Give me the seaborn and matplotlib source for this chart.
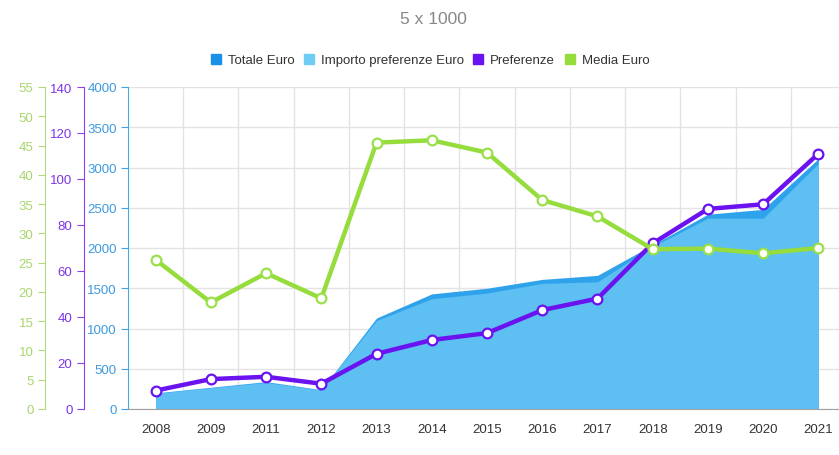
import numpy as np
import pandas as pd
import matplotlib
matplotlib.use("Agg")
import matplotlib.pyplot as plt
from matplotlib.lines import Line2D
import seaborn as sns

# data
anni = ["2008", "2009", "2011", "2012", "2013", "2014", "2015",
        "2016", "2017", "2018", "2019", "2020", "2021"]
totale_euro = [200, 270, 340, 240, 1130, 1430, 1500, 1610, 1660, 2040, 2420, 2480, 3110]
importo_pref_euro = [195, 265, 330, 235, 1100, 1370, 1440, 1560, 1580, 2020, 2370, 2370, 3050]
preferenze = [8, 13, 14, 11, 24, 30, 33, 43, 48, 72, 87, 89, 111]
media_euro = [25.5, 18.2, 23.2, 18.9, 45.5, 45.9, 43.8, 35.7, 32.9, 27.3, 27.4, 26.6, 27.5]

df = pd.DataFrame({
    "pos": np.arange(len(anni)),
    "anno": anni,
    "totale": totale_euro,
    "importo": importo_pref_euro,
    "pref": preferenze,
    "media": media_euro,
})

c_tot = "#1a90e8"
c_imp = "#6fcdf5"
c_pref = "#6a12f0"
c_media = "#95dc3c"

sns.set_style("white")
plt.rcParams["font.family"] = ["Liberation Sans", "DejaVu Sans"]

fig = plt.figure(figsize=(8.39, 4.56), dpi=100)
ax = fig.add_axes([128 / 839, 46 / 456, 718 / 839, 322 / 456])

# areas
ax.fill_between(df["pos"], 0, df["totale"], color="#2fa2ec", lw=0, zorder=1)
ax.fill_between(df["pos"], 0, df["importo"], color="#5dbff2", lw=0, zorder=2)
ax.set_ylim(0, 4000)
ax.set_yticks(np.arange(0, 4001, 500))
ax.set_xlim(-0.5, len(anni) - 0.5)
ax.set_xticks(df["pos"])
ax.set_xticklabels(anni)
ax.set_xticks(np.arange(0.5, len(anni) - 0.5, 1), minor=True)
ax.tick_params(axis="x", which="major", length=0, labelsize=9.5, labelcolor="#333333", pad=10)
ax.tick_params(axis="x", which="minor", length=5, color="#999999", width=1)
ax.tick_params(axis="y", length=5, color="#3fa3e6", labelcolor="#3b9ae0", labelsize=9.5, pad=3)
ax.yaxis.grid(True, color="#e3e3e3", lw=1)
ax.xaxis.grid(True, which="minor", color="#e3e3e3", lw=1)
ax.set_axisbelow(True)
for s in ["top", "right"]:
    ax.spines[s].set_visible(False)
ax.spines["left"].set_color("#4aa8e0")
ax.spines["bottom"].set_color("#a0a0a0")
ax.set_xlabel("")
ax.set_ylabel("")

# preferenze axis
ax_p = ax.twinx()
sns.lineplot(data=df, x="pos", y="pref", ax=ax_p, color=c_pref, lw=3.2,
             marker="o", markersize=7, markerfacecolor="white",
             markeredgecolor=c_pref, markeredgewidth=1.6, zorder=5)
ax_p.set_ylim(0, 140)
ax_p.set_yticks(np.arange(0, 141, 20))
ax_p.yaxis.set_ticks_position("left")
ax_p.yaxis.set_label_position("left")
ax_p.spines["left"].set_position(("outward", 32))
ax_p.spines["left"].set_visible(True)
ax_p.spines["left"].set_color("#8a3ff0")
for s in ["top", "right", "bottom"]:
    ax_p.spines[s].set_visible(False)
ax_p.tick_params(axis="y", length=5, color="#8a3ff0", labelcolor="#7b35e6", labelsize=9.5, pad=3)
ax_p.set_ylabel("")
ax_p.set_xlabel("")

# media euro axis
ax_m = ax.twinx()
sns.lineplot(data=df, x="pos", y="media", ax=ax_m, color=c_media, lw=3.2,
             marker="o", markersize=7, markerfacecolor="white",
             markeredgecolor="#9be04a", markeredgewidth=1.6, zorder=6)
ax_m.set_ylim(0, 55)
ax_m.set_yticks(np.arange(0, 56, 5))
ax_m.yaxis.set_ticks_position("left")
ax_m.yaxis.set_label_position("left")
ax_m.spines["left"].set_position(("outward", 60))
ax_m.spines["left"].set_visible(True)
ax_m.spines["left"].set_color("#b0db7a")
for s in ["top", "right", "bottom"]:
    ax_m.spines[s].set_visible(False)
ax_m.tick_params(axis="y", length=5, color="#b0db7a", labelcolor="#a8d66e", labelsize=9.5, pad=3)
ax_m.set_ylabel("")
ax_m.set_xlabel("")
ax_m.set_xlim(-0.5, len(anni) - 0.5)
ax_p.set_xlim(-0.5, len(anni) - 0.5)

# title and legend
fig.text(433 / 839, 1 - 20 / 456, "5 x 1000", ha="center", va="center",
         fontsize=12.5, color="#888888")
handles = [
    Line2D([], [], marker="s", ls="", color=c_tot, markersize=7),
    Line2D([], [], marker="s", ls="", color=c_imp, markersize=7),
    Line2D([], [], marker="s", ls="", color=c_pref, markersize=7),
    Line2D([], [], marker="s", ls="", color=c_media, markersize=7),
]
labels = ["Totale Euro", "Importo preferenze Euro", "Preferenze", "Media Euro"]
fig.legend(handles, labels, loc="center", bbox_to_anchor=(430 / 839, 1 - 61 / 456),
           ncol=4, frameon=False, fontsize=9.5, handlelength=0.8, handletextpad=0.5,
           columnspacing=0.7, labelcolor="#333333")

fig.savefig("out.png", dpi=100)
